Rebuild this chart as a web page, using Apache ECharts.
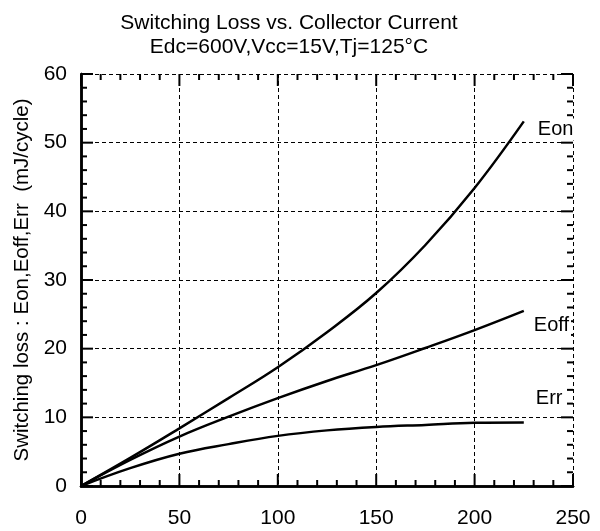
<!DOCTYPE html>
<html>
<head>
<meta charset="utf-8">
<script src="https://cdn.jsdelivr.net/npm/echarts@6/dist/echarts.min.js"></script>
<style>html,body{margin:0;padding:0;background:#fff;}#c{width:600px;height:531px;}</style>
</head>
<body>
<div id="c"></div>
<script>
const current = [0, 25, 50, 75, 100, 125, 150, 175, 200, 225];
const eon  = [0, 4.1, 8.4, 12.8, 17.3, 22.4, 28.1, 35.1, 43.4, 53.1];
const eoff = [0, 3.8, 7.2, 10.1, 12.8, 15.3, 17.6, 20.1, 22.7, 25.5];
const err  = [0, 2.6, 4.7, 6.1, 7.3, 8.1, 8.6, 8.9, 9.2, 9.25];
const xTicks = [0, 50, 100, 150, 200, 250];
const yTicks = [0, 10, 20, 30, 40, 50, 60];
const xMinorPerMajor = 5;
const yMinorPerMajor = 5;

const FONT = '"Liberation Sans", Arial, sans-serif';
const pair = (xs, ys) => xs.map((x, i) => [x, ys[i]]);

const xMin = xTicks[0], xMax = xTicks[xTicks.length - 1], xInt = xTicks[1] - xTicks[0];
const yMin = yTicks[0], yMax = yTicks[yTicks.length - 1], yInt = yTicks[1] - yTicks[0];

function axisBase(show) {
  return {
    type: 'value',
    axisLine: { show: true, lineStyle: { color: '#000', width: 2.5 } },
    axisTick: { show: false },
    axisLabel: { show: show, color: '#000', fontFamily: FONT, fontSize: 21 },
    splitLine: { show: show, lineStyle: { color: '#000', type: [4, 3], width: 1 } }
  };
}

const xb = Object.assign(axisBase(true), { min: xMin, max: xMax, interval: xInt, position: 'bottom' });
xb.axisLabel.margin = 22;
const xt = Object.assign(axisBase(false), { min: xMin, max: xMax, interval: xInt, position: 'top' });
const yl = Object.assign(axisBase(true), { min: yMin, max: yMax, interval: yInt, position: 'left',
  name: 'Switching loss : Eon,Eoff,Err  (mJ/cycle)', nameLocation: 'middle', nameGap: 48,
  nameTextStyle: { color: '#000', fontFamily: FONT, fontSize: 20.5 } });
yl.axisLabel.margin = 14;
const yr = Object.assign(axisBase(false), { min: yMin, max: yMax, interval: yInt, position: 'right' });

// inside tick marks on all four sides: [value, side, isMajor]
const tickItems = [];
for (let i = 0; i < xTicks.length; i++) {
  for (let k = 0; k < xMinorPerMajor; k++) {
    if (i === xTicks.length - 1 && k > 0) break;
    const v = xTicks[i] + k * xInt / xMinorPerMajor;
    tickItems.push([v, 0, k === 0 ? 1 : 0], [v, 1, k === 0 ? 1 : 0]);
  }
}
for (let i = 0; i < yTicks.length; i++) {
  for (let k = 0; k < yMinorPerMajor; k++) {
    if (i === yTicks.length - 1 && k > 0) break;
    const v = yTicks[i] + k * yInt / yMinorPerMajor;
    tickItems.push([v, 2, k === 0 ? 1 : 0], [v, 3, k === 0 ? 1 : 0]);
  }
}

const tickSeries = {
  type: 'custom', silent: true, z: 3,
  data: tickItems,
  renderItem: function (params, api) {
    const v = api.value(0), side = api.value(1), major = api.value(2);
    const len = major ? 12 : 6;
    let p, q;
    if (side === 0) { p = api.coord([v, yMin]); q = [p[0], p[1] - len]; }
    else if (side === 1) { p = api.coord([v, yMax]); q = [p[0], p[1] + len]; }
    else if (side === 2) { p = api.coord([xMin, v]); q = [p[0] + len, p[1]]; }
    else { p = api.coord([xMax, v]); q = [p[0] - len, p[1]]; }
    return { type: 'line', shape: { x1: p[0], y1: p[1], x2: q[0], y2: q[1] },
      style: { stroke: '#000', lineWidth: 2 } };
  }
};

function ser(name, ys, off) {
  return {
    name: name, type: 'line', data: pair(current, ys),
    smooth: 0.4, showSymbol: false, symbol: 'none',
    lineStyle: { color: '#000', width: 2.5 },
    endLabel: { show: true, formatter: name, color: '#000', fontFamily: FONT, fontSize: 20,
      distance: 0, offset: off, backgroundColor: '#fff', padding: [1, 2] },
    z: 5
  };
}

const chart = echarts.init(document.getElementById('c'), null, { renderer: 'canvas' });
chart.setOption({
  animation: false,
  title: {
    text: 'Switching Loss vs. Collector Current\nEdc=600V,Vcc=15V,Tj=125°C',
    left: 284, top: 6, textAlign: 'center',
    textStyle: { color: '#000', fontFamily: FONT, fontSize: 21, fontWeight: 'normal', lineHeight: 24 }
  },
  grid: { left: 81, right: 27, top: 74, bottom: 45, containLabel: false, outerBoundsMode: 'none' },
  xAxis: [xb, xt],
  yAxis: [yl, yr],
  series: [
    tickSeries,
    ser('Eon', eon, [12, 8]),
    ser('Eoff', eoff, [8, 15]),
    ser('Err', err, [10, -24])
  ]
});
</script>
</body>
</html>
